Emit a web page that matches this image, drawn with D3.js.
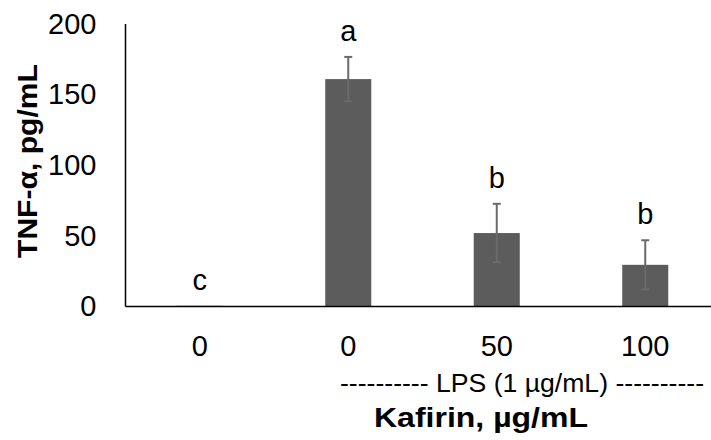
<!DOCTYPE html>
<html><head><meta charset="utf-8">
<script src="https://cdn.jsdelivr.net/npm/d3@7"></script>
<style>body{margin:0;background:#fff}svg{display:block}</style>
</head><body>
<svg id="c" width="711" height="440"></svg>
<script>
const categories = ["0", "0", "50", "100"];
const values = [0.5, 161, 52, 29.5];
const errors = [0, 15.7, 20.7, 17.4];
const letters = ["c", "a", "b", "b"];
const yTicks = [0, 50, 100, 150, 200];

const svg = d3.select("#c");
const font = "'Liberation Sans', Arial, sans-serif";
const x0 = 125.5, x1 = 719.5, yTop = 24, yBot = 306.5;

const x = d3.scaleBand().domain(d3.range(categories.length)).range([x0, x1]).paddingInner(0.69).paddingOuter(0.345);
const y = d3.scaleLinear().domain([0, 200]).range([yBot, yTop]);

// y tick labels
const yAxis = d3.axisLeft(y).tickValues(yTicks).tickSize(0).tickPadding(29);
const gy = svg.append("g").attr("transform", `translate(${x0},0)`).call(yAxis);
gy.select(".domain").remove();
gy.selectAll("text").attr("font-family", font).attr("font-size", 29).attr("fill", "#000");

// bars
svg.selectAll("rect.bar").data(values).enter().append("rect")
  .attr("x", (d, i) => x(i)).attr("width", x.bandwidth())
  .attr("y", d => y(d)).attr("height", d => yBot - y(d))
  .attr("fill", "#5c5c5c");

// error bars
const eg = svg.append("g").attr("stroke", "#6a6a6a").attr("stroke-width", 2);
values.forEach((v, i) => {
  if (!errors[i]) return;
  const cx = x(i) + x.bandwidth() / 2;
  eg.append("line").attr("x1", cx).attr("x2", cx).attr("y1", y(v + errors[i])).attr("y2", y(v - errors[i]));
  eg.append("line").attr("x1", cx - 4).attr("x2", cx + 4).attr("y1", y(v + errors[i])).attr("y2", y(v + errors[i]));
  eg.append("line").attr("x1", cx - 4).attr("x2", cx + 4).attr("y1", y(v - errors[i])).attr("y2", y(v - errors[i]));
});

// axes lines
svg.append("line").attr("x1", x0).attr("x2", x0).attr("y1", yTop).attr("y2", yBot).attr("stroke", "#000").attr("stroke-width", 1.5);
svg.append("line").attr("x1", x0).attr("x2", 711).attr("y1", yBot).attr("y2", yBot).attr("stroke", "#000").attr("stroke-width", 1.5);

// x tick labels
const xAxis = d3.axisBottom(x).tickFormat(i => categories[i]).tickSize(0).tickPadding(29);
const gx = svg.append("g").attr("transform", `translate(0,${yBot})`).call(xAxis);
gx.select(".domain").remove();
gx.selectAll("text").attr("font-family", font).attr("font-size", 29).attr("fill", "#000");

// significance letters
svg.selectAll("text.sig").data(values).enter().append("text")
  .attr("x", (d, i) => x(i) + x.bandwidth() / 2)
  .attr("y", (d, i) => y(d + errors[i]) - 16)
  .attr("text-anchor", "middle").attr("font-family", font).attr("font-size", 29).text((d, i) => letters[i]);

// LPS bracket text
svg.append("text").attr("x", 340).attr("y", 392)
  .attr("textLength", 364).attr("lengthAdjust", "spacingAndGlyphs")
  .attr("font-family", font).attr("font-size", 25).text("---------- LPS (1 µg/mL) ----------");

// x title
svg.append("text").attr("x", 374).attr("y", 426.5)
  .attr("textLength", 214).attr("lengthAdjust", "spacingAndGlyphs")
  .attr("font-family", font).attr("font-size", 27).attr("font-weight", "bold").text("Kafirin, µg/mL");

// y title
svg.append("text").attr("transform", "translate(37,258) rotate(-90)")
  .attr("textLength", 194).attr("lengthAdjust", "spacingAndGlyphs")
  .attr("font-family", font).attr("font-size", 28).attr("font-weight", "bold").text("TNF-α, pg/mL");
</script>
</body></html>
